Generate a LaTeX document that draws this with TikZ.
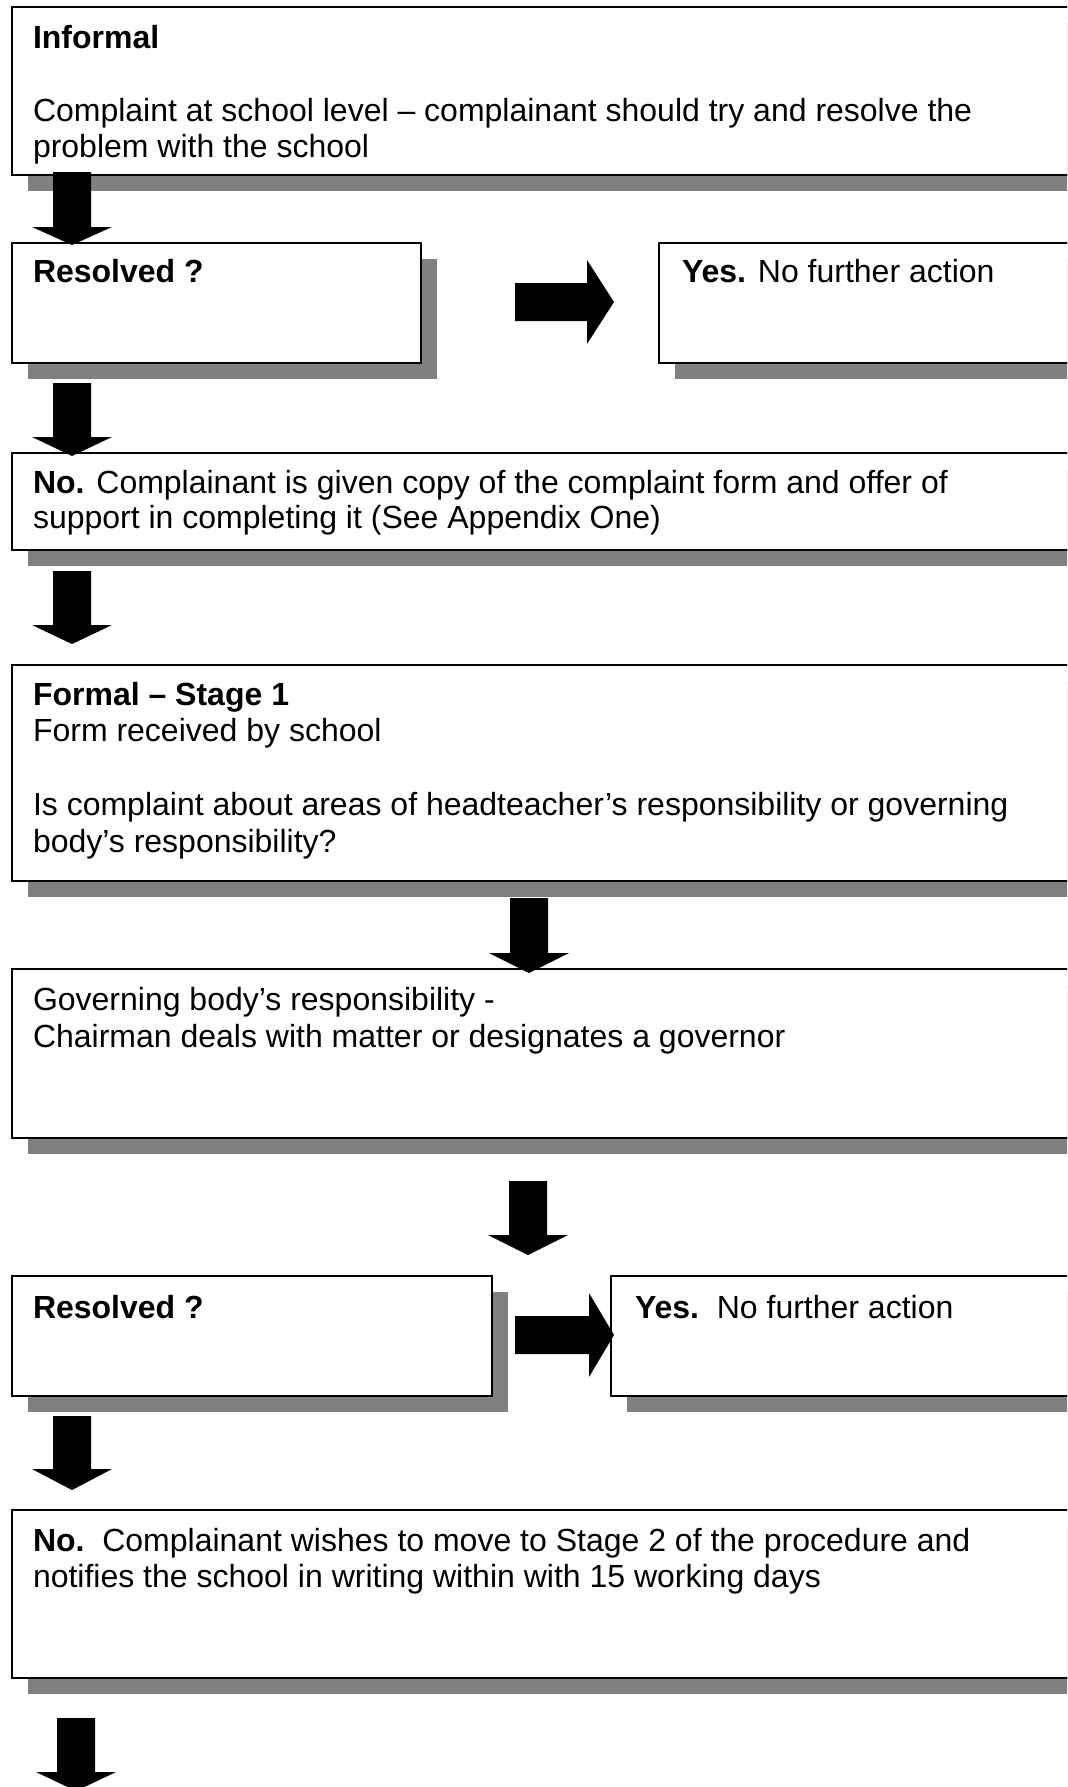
\documentclass[tikz,border=0pt]{standalone}
\usepackage{fontspec}
\setmainfont{Liberation Sans}
\usetikzlibrary{shadows}
\definecolor{shadowgray}{HTML}{808080}
\newcommand\downblk[4]{% x, ytop, ybase, ytip
  \fill[blk] (#1-19,#2) -- (#1+19,#2) -- (#1+19,#3) -- (#1+40,#3) -- (#1,#4) -- (#1-40,#3) -- (#1-19,#3) -- cycle;}
\newcommand\rightblk[4]{% y, xleft, xbase, xtip
  \fill[blk] (#2,#1-19) -- (#2,#1+19) -- (#3,#1+19) -- (#3,#1+42) -- (#4,#1) -- (#3,#1-42) -- (#3,#1-19) -- cycle;}
\begin{document}
\begin{tikzpicture}[x=1bp,y=-1bp,
  box/.style={draw=black, line width=2bp, fill=white, rectangle, anchor=north west,
    inner sep=0pt, outer sep=0pt,
    drop shadow={fill=shadowgray, opacity=1, shadow xshift=16bp, shadow yshift=-16bp}},
  txt/.style={anchor=base west, inner sep=0pt, outer sep=0pt,
    font=\fontsize{32bp}{36bp}\selectfont},
  blk/.style={fill=black}]
\clip (0,0) rectangle (1067,1787);
\fill[white] (0,0) rectangle (1067,1787);

% boxes
\node[box, minimum width=1100bp, minimum height=168bp] (informal) at (12,7) {};
\node[box, minimum width=409bp, minimum height=120bp] (res1) at (12,243) {};
\node[box, minimum width=500bp, minimum height=120bp] (yes1) at (659,243) {};
\node[box, minimum width=1100bp, minimum height=97bp] (no1) at (12,453) {};
\node[box, minimum width=1100bp, minimum height=216bp] (formal) at (12,665) {};
\node[box, minimum width=1100bp, minimum height=169bp] (gov) at (12,969) {};
\node[box, minimum width=480bp, minimum height=120bp] (res2) at (12,1276) {};
\node[box, minimum width=500bp, minimum height=120bp] (yes2) at (611,1276) {};
\node[box, minimum width=1100bp, minimum height=168bp] (no2) at (12,1510) {};

% texts
\node[txt] (t1) at (33,48) {\textbf{Informal}};
\node[txt] (t2) at (33,121) {Complaint at school level – complainant should try and resolve the};
\node[txt] (t3) at (33,157) {problem with the school};
\node[txt] (t4) at (33,282) {\textbf{Resolved ?}};
\node[txt] (t5) at (682,282) {\textbf{Yes.} No further action};
\node[txt] (t6) at (33,493) {\textbf{No.} Complainant is given copy of the complaint form and offer of};
\node[txt] (t7) at (33,528) {support in completing it (See Appendix One)};
\node[txt] (t8) at (33,705) {\textbf{Formal – Stage 1}};
\node[txt] (t9) at (33,741) {Form received by school};
\node[txt] (t10) at (33,815) {Is complaint about areas of headteacher’s responsibility or governing};
\node[txt] (t11) at (33,852) {body’s responsibility?};
\node[txt] (t12) at (33,1010) {Governing body’s responsibility -};
\node[txt] (t13) at (33,1047) {Chairman deals with matter or designates a governor};
\node[txt] (t14) at (33,1318) {\textbf{Resolved ?}};
\node[txt] (t15) at (635,1318) {\textbf{Yes.}\ \ No further action};
\node[txt] (t16) at (33,1551) {\textbf{No.}\ \ Complainant wishes to move to Stage 2 of the procedure and};
\node[txt] (t17) at (33,1587) {notifies the school in writing within with 15 working days};

% block arrows
\downblk{72}{172}{227}{245}
\downblk{72}{383}{437}{456}
\downblk{72}{571}{625}{644}
\downblk{529}{898}{953}{973}
\downblk{528}{1181}{1235}{1255}
\downblk{72}{1416}{1469}{1490}
\downblk{76}{1718}{1772}{1791}
\rightblk{302}{515}{587}{614}
\rightblk{1335}{515}{589}{614}
\end{tikzpicture}
\end{document}
